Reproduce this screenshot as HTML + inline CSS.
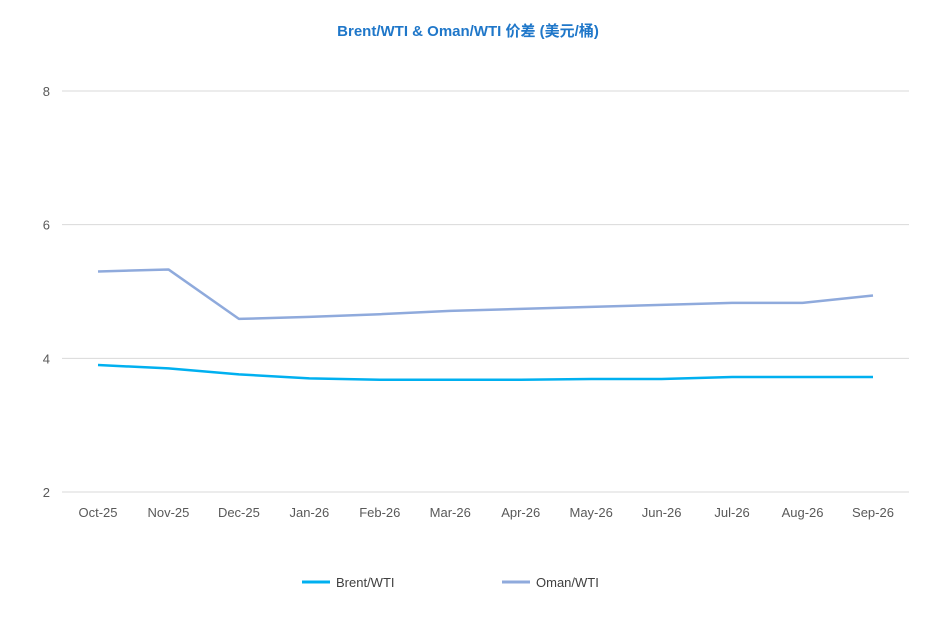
<!DOCTYPE html>
<html><head><meta charset="utf-8"><style>
body{margin:0;background:#fff;}
svg text{font-family:"Liberation Sans","Noto Sans CJK SC",sans-serif;}
</style></head><body>
<svg id="chart" width="937" height="634" xmlns="http://www.w3.org/2000/svg">
<text x="468" y="36" text-anchor="middle" font-size="15" font-weight="bold" fill="#1f77c9">Brent/WTI &amp; Oman/WTI 价差 (美元/桶)</text>
<g id="grid"></g><g id="xlabels"></g><g id="series"></g>
<g>
<line x1="302" y1="582" x2="330" y2="582" stroke="#00b0f0" stroke-width="3"/>
<text x="336" y="587" font-size="13" fill="#404040">Brent/WTI</text>
<line x1="502" y1="582" x2="530" y2="582" stroke="#8faadc" stroke-width="3"/>
<text x="536" y="587" font-size="13" fill="#404040">Oman/WTI</text>
</g>
</svg>
<script>
const categories=["Oct-25","Nov-25","Dec-25","Jan-26","Feb-26","Mar-26","Apr-26","May-26","Jun-26","Jul-26","Aug-26","Sep-26"];
const brentWti=[3.90,3.85,3.76,3.70,3.68,3.68,3.68,3.69,3.69,3.72,3.72,3.72];
const omanWti=[5.30,5.33,4.59,4.62,4.66,4.71,4.74,4.77,4.80,4.83,4.83,4.94];
const yTicks=[2,4,6,8];
const NS="http://www.w3.org/2000/svg";
const x=i=>98+i*(873-98)/(categories.length-1);
const y=v=>492-(v-2)*(492-91)/6;
function mk(t,a,p){const e=document.createElementNS(NS,t);for(const k in a)e.setAttribute(k,a[k]);p.appendChild(e);return e;}
const grid=document.getElementById('grid');
yTicks.forEach(v=>{
 const l=mk('line',{x1:62,x2:909,y1:y(v),y2:y(v),stroke:'#d9d9d9','stroke-width':1},grid);
 
 
 const t=mk('text',{x:50,y:y(v)+5,'text-anchor':'end','font-size':13,fill:'#595959'},grid);
 t.textContent=v;
 
 
});
const xl=document.getElementById('xlabels');
categories.forEach((c,i)=>{
 const t=mk('text',{x:x(i),y:517,'text-anchor':'middle','font-size':13,fill:'#595959'},xl);
 t.textContent=c;
 
 
});
const sg=document.getElementById('series');
[[brentWti,'#00b0f0','brent-wti-line'],[omanWti,'#8faadc','oman-wti-line']].forEach(([d,col,n])=>{
 const p=mk('polyline',{points:d.map((v,i)=>x(i)+','+y(v)).join(' '),fill:'none',stroke:col,'stroke-width':2.5,'stroke-linejoin':'round'},sg);
 
 
});
</script>
</body></html>
